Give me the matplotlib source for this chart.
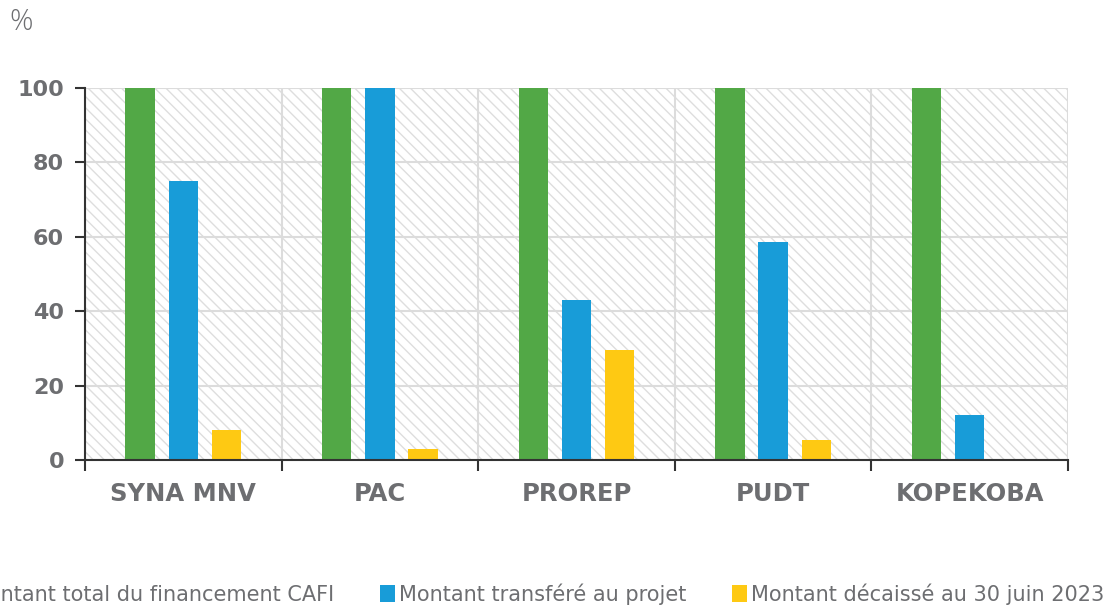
import numpy as np
import matplotlib.pyplot as plt
from matplotlib.patches import Rectangle

# données (%)
projets = ['SYNA MNV', 'PAC', 'PROREP', 'PUDT', 'KOPEKOBA']
total_cafi = [100, 100, 100, 100, 100]
transfere = [75, 100, 43, 58.5, 12]
decaisse = [8, 3, 29.5, 5.5, 0]
series_noms = ['Montant total du financement CAFI',
               'Montant transféré au projet',
               'Montant décaissé au 30 juin 2023']
couleurs = ['#52a846', '#189cd8', '#fec913']

gris = '#6d6e71'
plt.rcParams['font.family'] = ['DejaVu Sans']
plt.rcParams['hatch.color'] = '#dedede'
plt.rcParams['hatch.linewidth'] = 1.0

fig = plt.figure(figsize=(11.2, 6.09), dpi=100)
ax = fig.add_axes([85/1120, 1-460/609, (1068-85)/1120, (460-88)/609])

# fond hachuré
ax.add_patch(Rectangle((0, 0), 1, 1, transform=ax.transAxes, facecolor='white',
                       edgecolor='#dedede', hatch='\\\\\\', lw=0, zorder=0))

x = np.arange(len(projets))
w = 0.15
for i, vals in enumerate([total_cafi, transfere, decaisse]):
    ax.bar(x + (i-1)*0.22, vals, w, color=couleurs[i], label=series_noms[i], zorder=3)

ax.set_xlim(-0.5, len(projets)-0.5)
ax.set_ylim(0, 100)
ax.set_yticks(range(0, 101, 20))
ax.set_xticks(x)
ax.set_xticklabels(projets)
ax.set_xticks(np.arange(-0.5, len(projets)), minor=True)
ax.tick_params(axis='x', which='major', length=0, pad=16, labelsize=17.5, labelcolor=gris)
ax.tick_params(axis='x', which='minor', length=8, width=1.5, color='#333333')
ax.tick_params(axis='y', length=7, width=1.5, color='#333333', labelsize=16,
               labelcolor=gris, pad=8)
for lab in ax.get_xticklabels() + ax.get_yticklabels():
    lab.set_fontweight('bold')

ax.grid(True, axis='y', color='#dcdcdc', lw=1.5, zorder=1)
ax.grid(True, axis='x', which='minor', color='#dcdcdc', lw=1.5, zorder=1)
ax.set_axisbelow(True)
for s in ['top', 'right']:
    ax.spines[s].set_visible(False)
for s in ['left', 'bottom']:
    ax.spines[s].set_color('#333333')
    ax.spines[s].set_linewidth(1.5)
    ax.spines[s].set_zorder(4)

fig.text(9/1120, 1-22/609, '%', fontsize=21, color=gris, va='center',
         family='Open Sans', fontweight='light')

fig.legend(loc='center', bbox_to_anchor=(528/1120, 1-594/609), ncol=3, frameon=False,
           handlelength=0.7, handleheight=0.9, handletextpad=0.2,
           columnspacing=2.2, labelcolor=gris,
           prop={'family': ['DejaVu Sans'], 'size': 15})

fig.savefig('out.png', dpi=100)
